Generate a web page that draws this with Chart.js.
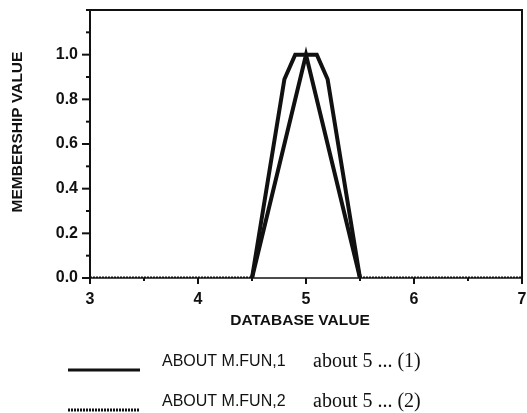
<!DOCTYPE html>
<html>
<head>
<meta charset="utf-8">
<script src="https://cdn.jsdelivr.net/npm/chart.js@4/dist/chart.umd.min.js"></script>
<style>
  html, body { margin: 0; padding: 0; background: #fff; }
  #wrap { width: 527px; height: 413px; position: relative; }
</style>
</head>
<body>
<div id="wrap"><canvas id="c" width="527" height="413"></canvas></div>
<script>
// Membership functions "about 5"
const fun1X = [4.5, 4.8, 4.9, 5.1, 5.2, 5.5];
const fun1Y = [0, 0.89, 1.0, 1.0, 0.89, 0];
const fun2X = [3, 4.5, 5, 5.5, 7];
const fun2Y = [0, 0, 1.0, 0, 0];

const seriesNames = ['ABOUT M.FUN,1', 'ABOUT M.FUN,2'];
const seriesNotes = ['about 5 ... (1)', 'about 5 ... (2)'];

const xTickLabels = ['3', '4', '5', '6', '7'];
const yTickLabels = ['0.0', '0.2', '0.4', '0.6', '0.8', '1.0'];
const xTitle = 'DATABASE VALUE';
const yTitle = 'MEMBERSHIP VALUE';

const INK = '#111';
const BOLD = 'bold 15.5px "Liberation Sans", Arial, sans-serif';

function pts(xs, ys) { return xs.map((x, i) => ({ x: x, y: ys[i] })); }

const bothZero = ctx => ctx.p0.parsed.y === 0 && ctx.p1.parsed.y === 0;

const frame = {
  id: 'frame',
  afterDraw(chart) {
    const { ctx, chartArea: a, scales } = chart;
    const xs = scales.x, ys = scales.y;
    ctx.save();
    ctx.strokeStyle = INK;
    // box round the plot
    ctx.lineWidth = 2;
    ctx.beginPath();
    ctx.moveTo(a.left, a.bottom); ctx.lineTo(a.left, a.top);
    ctx.lineTo(a.right, a.top); ctx.lineTo(a.right, a.bottom);
    ctx.stroke();
    ctx.lineWidth = 1.5;
    ctx.beginPath();
    ctx.moveTo(a.left, a.bottom); ctx.lineTo(a.right, a.bottom);
    ctx.stroke();
    // tick marks: long where labelled, short otherwise
    ctx.lineWidth = 2;
    ys.ticks.forEach(t => {
      const py = ys.getPixelForValue(t.value);
      const len = t.label ? 8 : 4;
      ctx.beginPath(); ctx.moveTo(a.left - len, py); ctx.lineTo(a.left, py); ctx.stroke();
    });
    xs.ticks.forEach(t => {
      const px = xs.getPixelForValue(t.value);
      const len = t.label ? 6 : 3;
      ctx.beginPath(); ctx.moveTo(px, a.bottom); ctx.lineTo(px, a.bottom + len); ctx.stroke();
    });
    // axis titles
    ctx.fillStyle = INK;
    ctx.font = BOLD;
    ctx.textAlign = 'center';
    ctx.textBaseline = 'middle';
    ctx.fillText(xTitle, (a.left + a.right) / 2 - 6, 321);
    ctx.save();
    ctx.translate(18, (a.top + a.bottom) / 2 - 12);
    ctx.rotate(-Math.PI / 2);
    ctx.fillText(yTitle, 0, 0);
    ctx.restore();
    // legend rows
    const rows = [362, 402];
    chart.data.datasets.forEach((ds, i) => {
      const ty = rows[i];
      ctx.strokeStyle = INK;
      ctx.lineWidth = 3;
      ctx.setLineDash(i === 1 ? [2, 1] : []);
      ctx.beginPath(); ctx.moveTo(68, ty + 8); ctx.lineTo(140, ty + 8); ctx.stroke();
      ctx.setLineDash([]);
      ctx.textAlign = 'left';
      ctx.font = '16px "Liberation Sans", Arial, sans-serif';
      ctx.fillText(seriesNames[i], 162, ty);
      ctx.font = '20px "Liberation Serif", "Times New Roman", serif';
      ctx.fillText(seriesNotes[i], 313, ty);
    });
    ctx.restore();
  }
};

const tickFont = { family: '"Liberation Sans", Arial, sans-serif', size: 16, weight: 'bold' };

new Chart(document.getElementById('c'), {
  type: 'scatter',
  data: {
    datasets: [
      {
        label: seriesNames[0],
        data: pts(fun1X, fun1Y),
        showLine: true,
        borderColor: INK,
        borderWidth: 4,
        borderJoinStyle: 'miter',
        pointRadius: 0,
        fill: false
      },
      {
        label: seriesNames[1],
        data: pts(fun2X, fun2Y),
        showLine: true,
        borderColor: INK,
        borderWidth: 4,
        borderJoinStyle: 'miter',
        pointRadius: 0,
        fill: false,
        segment: {
          borderDash: ctx => bothZero(ctx) ? [2, 1] : undefined,
          borderWidth: ctx => bothZero(ctx) ? 3 : undefined
        }
      }
    ]
  },
  options: {
    responsive: false,
    animation: false,
    events: [],
    layout: { padding: { left: 0, right: 5, top: 10, bottom: 95 } },
    plugins: { legend: { display: false }, tooltip: { enabled: false } },
    scales: {
      x: {
        type: 'linear',
        min: 3, max: 7,
        grid: { display: false, drawTicks: false },
        border: { display: false },
        afterFit(s) { s.height = 40; s.paddingLeft = 0; s.paddingRight = 0; },
        ticks: {
          stepSize: 0.5,
          autoSkip: false,
          maxRotation: 0,
          padding: 12,
          color: INK,
          font: tickFont,
          callback: v => { const s = String(Math.round(v * 10) / 10); return xTickLabels.includes(s) ? s : ''; }
        }
      },
      y: {
        min: 0, max: 1.2,
        grid: { display: false, drawTicks: false },
        border: { display: false },
        afterFit(s) { s.width = 90; s.paddingTop = 0; s.paddingBottom = 0; },
        ticks: {
          stepSize: 0.1,
          autoSkip: false,
          padding: 12,
          color: INK,
          font: tickFont,
          callback: v => { const s = (Math.round(v * 10) / 10).toFixed(1); return yTickLabels.includes(s) ? s : ''; }
        }
      }
    }
  },
  plugins: [frame]
});
</script>
</body>
</html>
